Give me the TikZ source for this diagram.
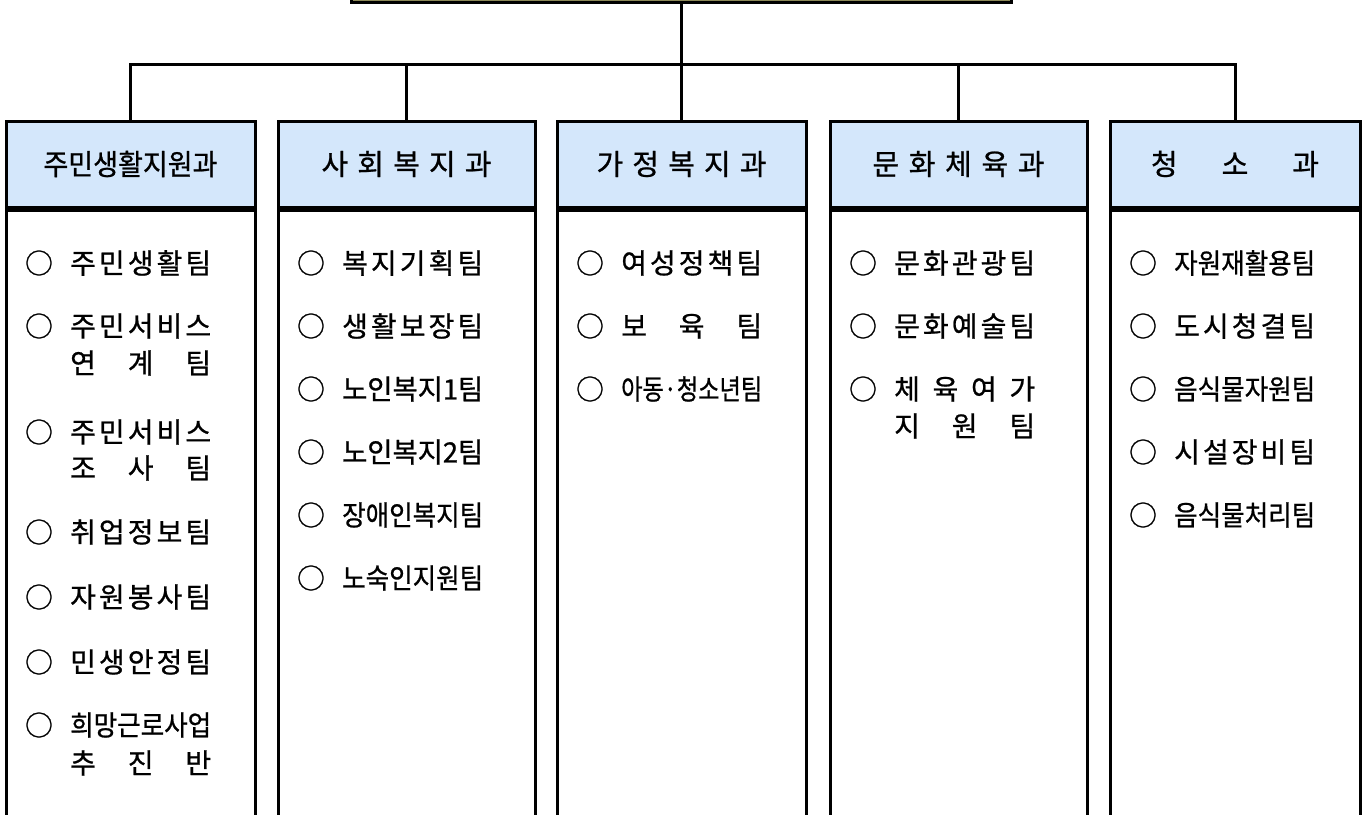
\documentclass[tikz,border=0pt]{standalone}
\usepackage{fontspec}
\setmainfont{Noto Sans CJK KR}[FakeBold=0.8]
\definecolor{hdblue}{HTML}{D4E7FB}
\definecolor{topolive}{HTML}{8C8858}
\newcommand{\teamw}{141pt}
\makeatletter
\newsavebox{\sp@box}
% spread the letters of #2 over a box #1 wide, or squeeze them when too wide
\newcommand{\spreadto}[2]{\sbox{\sp@box}{#2}%
  \ifdim\wd\sp@box>#1\relax
    \resizebox{#1}{\height}{\usebox{\sp@box}}%
  \else
    \makebox[#1][s]{\@tfor\sp@c:=#2\do{\sp@c\hskip 0pt plus 1fil}\unskip}%
  \fi}
\makeatother
% one team: name, left edge of box, y, text
\newcommand{\teamrow}[4]{%
  \node[bull] (#1o) at (#2+33,#3) {○};
  \node[team] (#1) at (#2+64,#3) {\spreadto{\teamw}{#4}};}
\newcommand{\teamnext}[4]{%
  \node[team] (#1) at (#2+64,#3) {\spreadto{\teamw}{#4}};}
\tikzset{
  dept/.style={draw, line width=3pt, fill=hdblue, minimum width=#1,
    minimum height=86pt, inner sep=0pt, font=\fontsize{29}{32}\selectfont},
  deptbody/.style={draw, line width=3pt, minimum width=#1,
    minimum height=640pt, anchor=north, inner sep=0pt},
  bull/.style={inner sep=0pt, font=\fontsize{28}{30}\selectfont},
  team/.style={anchor=west, inner sep=0pt, font=\fontsize{28}{30}\selectfont},
  conn/.style={line width=3pt}
}
\begin{document}
\begin{tikzpicture}[x=1pt, y=-1pt]
    \useasboundingbox (0,0) rectangle (1365,814);
    \clip (0,0) rectangle (1365,814);
    \node[draw, line width=3pt, fill=topolive, minimum width=660pt,
      minimum height=60pt, inner sep=0pt] (top) at (681,-28) {};
    % departments
    \node[dept=249pt] (d1) at (130.5,164) {\spreadto{174pt}{주민생활지원과}};
    \node[dept=257pt] (d2) at (406.5,164) {\spreadto{170pt}{사회복지과}};
    \node[dept=249pt] (d3) at (681.5,164) {\spreadto{170pt}{가정복지과}};
    \node[dept=257pt] (d4) at (958.5,164) {\spreadto{172pt}{문화체육과}};
    \node[dept=250pt] (d5) at (1235,164) {\spreadto{168pt}{청 소 과}};
    \node[deptbody=249pt] (b1) at (d1.south) {};
    \node[deptbody=257pt] (b2) at (d2.south) {};
    \node[deptbody=249pt] (b3) at (d3.south) {};
    \node[deptbody=257pt] (b4) at (d4.south) {};
    \node[deptbody=250pt] (b5) at (d5.south) {};
    % connectors
    \coordinate (bar) at (681,64);
    \draw[conn] (top.south) -- (bar);
    \draw[conn] (d1.north) -- (d1.north |- bar) -- (d5.north |- bar) -- (d5.north);
    \draw[conn] (d2.north) -- (d2.north |- bar);
    \draw[conn] (d3.north) -- (d3.north |- bar);
    \draw[conn] (d4.north) -- (d4.north |- bar);
    % teams
    \teamrow{t1a}{6}{263}{주민생활팀}
    \teamrow{t1b}{6}{326}{주민서비스}
    \teamnext{t1b2}{6}{363}{연 계 팀}
    \teamrow{t1c}{6}{432}{주민서비스}
    \teamnext{t1c2}{6}{468}{조 사 팀}
    \teamrow{t1d}{6}{532}{취업정보팀}
    \teamrow{t1e}{6}{597}{자원봉사팀}
    \teamrow{t1f}{6}{662}{민생안정팀}
    \teamrow{t1g}{6}{725}{희망근로사업}
    \teamnext{t1g2}{6}{763}{추 진 반}
    \teamrow{t2a}{278}{263}{복지기획팀}
    \teamrow{t2b}{278}{326}{생활보장팀}
    \teamrow{t2c}{278}{389}{노인복지1팀}
    \teamrow{t2d}{278}{452}{노인복지2팀}
    \teamrow{t2e}{278}{515}{장애인복지팀}
    \teamrow{t2f}{278}{578}{노숙인지원팀}
    \teamrow{t3a}{557}{263}{여성정책팀}
    \teamrow{t3b}{557}{326}{보 육 팀}
    \teamrow{t3c}{557}{389}{아{동·}청소년팀}
    \teamrow{t4a}{830}{263}{문화관광팀}
    \teamrow{t4b}{830}{326}{문화예술팀}
    \teamrow{t4c}{830}{389}{체 육 여 가}
    \teamnext{t4c2}{830}{426}{지 원 팀}
    \teamrow{t5a}{1110}{263}{자원재활용팀}
    \teamrow{t5b}{1110}{326}{도시청결팀}
    \teamrow{t5c}{1110}{389}{음식물자원팀}
    \teamrow{t5d}{1110}{452}{시설장비팀}
    \teamrow{t5e}{1110}{515}{음식물처리팀}
\end{tikzpicture}
\end{document}
